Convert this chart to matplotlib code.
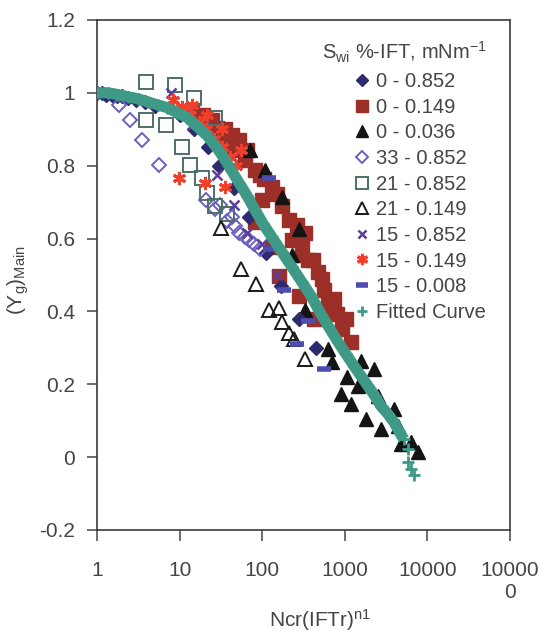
import numpy as np
import matplotlib
matplotlib.use("Agg")
import matplotlib.pyplot as plt

plt.rcParams["font.family"] = ["Liberation Sans", "DejaVu Sans"]
plt.rcParams["mathtext.default"] = "regular"

TXT = "#454545"

# ---- data ----
# Sw %-IFT 0 - 0.852 (filled diamonds)
d0_852_x = [1.0, 1.15, 1.3, 1.5, 1.75, 2.0, 2.4, 3.0, 3.8, 5.0, 10, 15, 22, 30, 45, 70, 110, 170, 280, 450]
d0_852_y = [1.0, 1.0, 0.995, 0.995, 0.99, 0.99, 0.985, 0.98, 0.975, 0.965, 0.94, 0.90, 0.85, 0.80, 0.74, 0.66, 0.56, 0.47, 0.38, 0.30]

# Sw %-IFT 0 - 0.149 (filled squares)
d0_149_x = [14, 19, 25, 28, 35, 43, 52, 62, 81, 100, 105, 131, 173, 209, 228, 300, 325,
            363, 479, 562, 631, 912, 1200, 81, 131, 158, 275, 427, 690,
            28, 43, 65, 93, 151, 263, 300, 417, 525, 741, 1047, 794]
d0_149_y = [0.953, 0.94, 0.926, 0.871, 0.90, 0.844, 0.871, 0.816, 0.789, 0.707, 0.762, 0.742, 0.688, 0.652, 0.597, 0.556, 0.616,
            0.542, 0.507, 0.46, 0.425, 0.351, 0.315, 0.644, 0.578, 0.496, 0.441, 0.378, 0.397,
            0.904, 0.885, 0.844, 0.775, 0.721, 0.638, 0.597, 0.542, 0.488, 0.433, 0.378, 0.392]

# Sw %-IFT 0 - 0.036 (filled triangles)
d0_036_x = [71, 107, 173, 228, 275, 325, 630, 690, 910, 1070, 1200, 1450, 1550, 1820, 2240,
            2510, 2750, 3900, 4370, 4800, 6300, 7600]
d0_036_y = [0.844, 0.789, 0.715, 0.556, 0.625, 0.405, 0.296, 0.26, 0.173, 0.219, 0.145, 0.195, 0.263, 0.104, 0.241,
            0.167, 0.077, 0.132, 0.085, 0.036, 0.041, 0.014]

# Sw %-IFT 33 - 0.852 (open diamonds)
d33_852_x = [1.84, 2.5, 3.5, 5.6, 21, 27, 31, 37, 43, 47, 52, 62, 69, 79, 93]
d33_852_y = [0.967, 0.926, 0.871, 0.803, 0.707, 0.68, 0.693, 0.647, 0.66, 0.633, 0.616, 0.603, 0.597, 0.584, 0.57]

# Sw %-IFT 21 - 0.852 (open squares)
d21_852_x = [3.9, 8.7, 15, 27, 3.9, 6.8, 10.8, 13.5, 18.8, 21.6, 27, 37]
d21_852_y = [1.03, 1.02, 0.986, 0.93, 0.926, 0.912, 0.852, 0.803, 0.767, 0.726, 0.688, 0.666]

# Sw %-IFT 21 - 0.149 (open triangles)
d21_149_x = [32, 55, 84, 120, 158, 173, 209, 245, 325]
d21_149_y = [0.63, 0.515, 0.474, 0.405, 0.41, 0.37, 0.342, 0.323, 0.268]

# Sw %-IFT 15 - 0.852 (crosses)
d15_852_x = [7.9, 14.2, 28, 46, 65, 100, 151]
d15_852_y = [1.0, 0.912, 0.775, 0.693, 0.616, 0.584, 0.50]

# Sw %-IFT 15 - 0.149 (asterisks)
d15_149_x = [8.4, 10.8, 13.5, 17, 21, 26, 33, 41, 48, 9.7, 20.5, 35, 14.2, 21.5, 32.6, 56]
d15_149_y = [0.98, 0.96, 0.94, 0.92, 0.90, 0.874, 0.85, 0.825, 0.80, 0.767, 0.753, 0.742, 0.967, 0.94, 0.90, 0.844]

# Sw %-IFT 15 - 0.008 (bars)
d15_008_x = [120, 123, 186, 263, 363, 562]
d15_008_y = [0.767, 0.57, 0.46, 0.31, 0.373, 0.241]

# fitted curve
fit_x = [1.0, 1.36, 1.79, 2.36, 3.11, 4.1, 5.4, 7.1, 9.4, 12.4, 16.4, 21.6, 26.9, 33.6, 41.9,
         52.3, 65.3, 81.5, 102, 130, 172, 227, 299, 394, 492, 631, 833, 1040, 1300, 1575,
         1910, 2320, 2740, 3330, 3930, 4510, 5180, 5780, 5780, 6280, 6830]
fit_y = [1.0, 1.0, 0.995, 0.989, 0.984, 0.975, 0.967, 0.959, 0.945, 0.932, 0.907, 0.882, 0.855, 0.825, 0.789,
         0.753, 0.718, 0.679, 0.641, 0.605, 0.564, 0.523, 0.482, 0.441, 0.40, 0.359, 0.315, 0.282, 0.249, 0.222,
         0.195, 0.167, 0.14, 0.118, 0.096, 0.071, 0.049, 0.022, -0.014, -0.033, -0.049]

x_ticks = [1, 10, 100, 1000, 10000, 100000]
x_ticklabels = ["1", "10", "100", "1000", "10000", "10000\n0"]
y_ticks = [-0.2, 0, 0.2, 0.4, 0.6, 0.8, 1.0, 1.2]
y_ticklabels = ["-0.2", "0", "0.2", "0.4", "0.6", "0.8", "1", "1.2"]

fig = plt.figure(figsize=(5.42, 6.36), dpi=100)
ax = fig.add_axes([0.179, 0.1667, 0.762, 0.802])

ms = 9.5
ax.plot(d0_149_x, d0_149_y, ls="none", marker="s", ms=ms, color="#9c2f28", mec="#9c2f28",
        label="0 - 0.149", zorder=2)
ax.plot(d0_036_x, d0_036_y, ls="none", marker="^", ms=ms, color="#141414", label="0 - 0.036", zorder=3)
ax.plot(d0_852_x, d0_852_y, ls="none", marker="D", ms=7, color="#2d2b6e", label="0 - 0.852", zorder=3)
ax.plot(d33_852_x, d33_852_y, ls="none", marker="D", ms=7, mfc="none", mec="#6a5fc0", mew=1.4,
        label="33 - 0.852", zorder=3)
ax.plot(d21_852_x, d21_852_y, ls="none", marker="s", ms=ms, mfc="none", mec="#4e6f69", mew=1.4,
        label="21 - 0.852", zorder=3)
ax.plot(d21_149_x, d21_149_y, ls="none", marker="^", ms=ms, mfc="none", mec="#1a1a1a", mew=1.4,
        label="21 - 0.149", zorder=3)
ax.plot(d15_852_x, d15_852_y, ls="none", marker="x", ms=7.5, color="#5b3f9c", mew=1.8,
        label="15 - 0.852", zorder=4)
ax.plot(d15_149_x, d15_149_y, ls="none", marker=(6, 2, 0), ms=9.5, color="#f0402c", mew=2.2,
        label="15 - 0.149", zorder=4)
ax.plot(d15_008_x, d15_008_y, ls="none", marker="_", ms=10.5, color="#4d4db0", mew=4,
        label="15 - 0.008", zorder=4)

# fitted curve: dense band of '+' markers, thins out at the tail
fx = np.array(fit_x)
fy = np.array(fit_y)
band = fy > 0.03
ax.plot(fx[band], fy[band], color="#3e9a86", lw=8, solid_capstyle="butt", zorder=5)
ax.plot(fx, fy, ls="none", marker="+", ms=9, color="#3e9a86", mew=2,
        label="Fitted Curve", zorder=5)

ax.set_xscale("log")
ax.set_xlim(1, 100000)
ax.set_ylim(-0.2, 1.2)
ax.set_xticks(x_ticks)
ax.set_xticklabels(x_ticklabels, multialignment="center")
ax.minorticks_off()
ax.set_yticks(y_ticks)
ax.set_yticklabels(y_ticklabels)
ax.tick_params(axis="x", direction="out", length=8, width=1.1, pad=14, labelsize=15, colors=TXT)
ax.tick_params(axis="y", direction="out", length=7, width=1.1, pad=9, labelsize=15, colors=TXT)
for sp in ax.spines.values():
    sp.set_color("#3a3a3a")
    sp.set_linewidth(1.2)

ax.set_xlabel("Ncr(IFTr)$^{n1}$", fontsize=15, color=TXT)
ax.xaxis.set_label_coords(0.54, -0.176)
ax.xaxis.label.set_va("center")
ax.set_ylabel("(Y$_g$)$_{Main}$", fontsize=15, color=TXT)
ax.yaxis.set_label_coords(-0.19, 0.49)
ax.yaxis.label.set_va("center")

handles, labels = ax.get_legend_handles_labels()
order = ["0 - 0.852", "0 - 0.149", "0 - 0.036", "33 - 0.852", "21 - 0.852",
         "21 - 0.149", "15 - 0.852", "15 - 0.149", "15 - 0.008", "Fitted Curve"]
hmap = dict(zip(labels, handles))
leg = ax.legend([hmap[k] for k in order], order, loc="upper right",
                bbox_to_anchor=(0.967, 0.98), frameon=False, fontsize=14.5,
                title="S$_{wi}$ %-IFT, mNm$^{-1}$", title_fontsize=14.5,
                handlelength=0.7, handletextpad=0.35, labelspacing=0.33,
                borderpad=0.0, markerscale=0.85, alignment="right")
for t in leg.get_texts():
    t.set_color(TXT)
leg.get_title().set_color(TXT)

fig.savefig("out.png", dpi=100, facecolor="white")
